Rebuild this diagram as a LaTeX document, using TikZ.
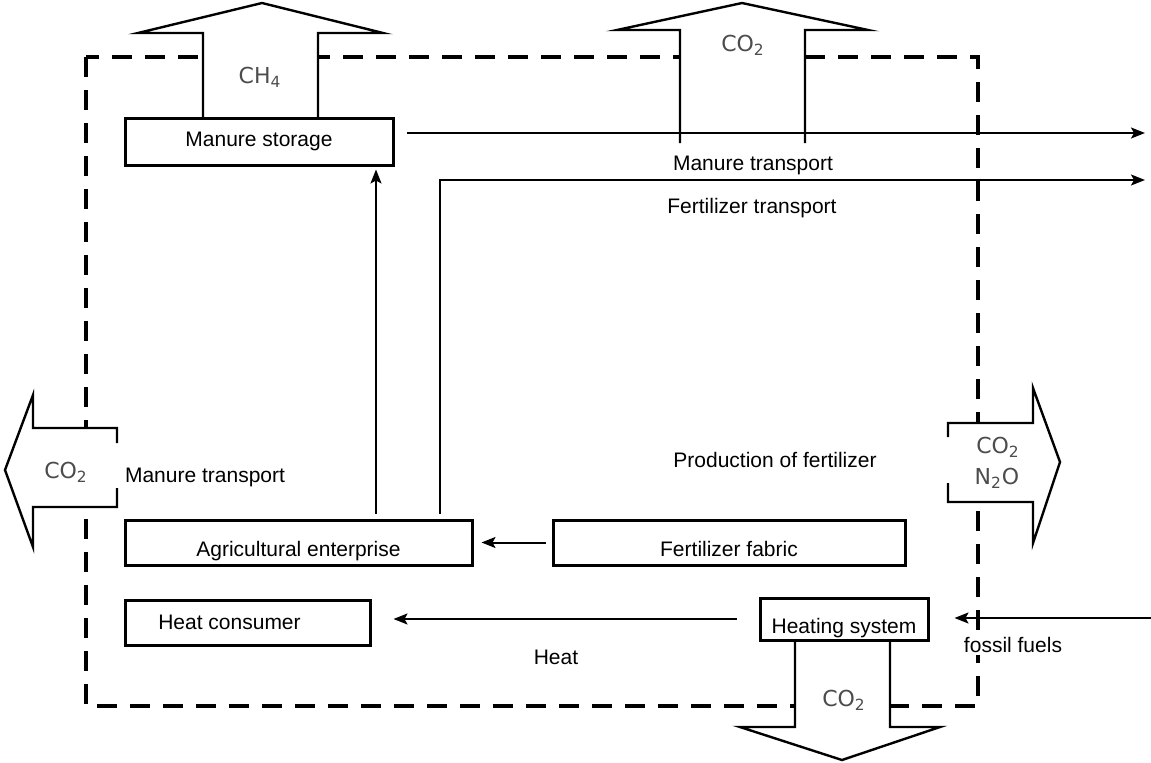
\documentclass[tikz,border=0pt]{standalone}
\usepackage{fontspec}
\setmainfont{Liberation Sans}
\newfontfamily\gasfont{DejaVu Sans}
\usetikzlibrary{arrows.meta}

\begin{document}
\begin{tikzpicture}[x=0.5pt,y=-0.5pt,font=\fontsize{10.5}{12.6}\selectfont,
  box/.style={draw,line width=1.5pt,inner sep=0pt,minimum height=22.5pt},
  low/.style={text height=14pt,text depth=0pt},
  flow/.style={line width=1pt,-{Stealth[length=7pt,width=5.5pt,inset=1.5pt]}},
  gas/.style={draw,line width=1.2pt,fill=white},
  gaslabel/.style={font=\gasfont\fontsize{11}{13}\selectfont,text=black!70}]
\useasboundingbox (0,0) rectangle (1151,762);
% system border
\draw[line width=1.6pt,dash pattern=on 10pt off 6.5pt] (86,57) rectangle (978,706);
% emissions
\draw[gas] (203,118) -- (203,33) -- (138,33) -- (262,3) -- (383,33) -- (318,33) -- (318,118);
\draw[gas] (680,143) -- (680,30) -- (617,30) -- (742,3) -- (868,30) -- (805,30) -- (805,143);
\draw[gas] (117,443) -- (117,428) -- (33,428) -- (33,395) -- (5,470) -- (33,547) -- (33,507) -- (117,507) -- (117,488);
\draw[gas] (948,437) -- (948,423) -- (1033,423) -- (1033,388) -- (1060,462) -- (1033,543) -- (1033,502) -- (948,502) -- (948,483);
\draw[gas] (795,640) -- (795,727) -- (740,727) -- (842,760) -- (940,727) -- (890,727) -- (890,640);
\node[gaslabel] (ch4) at (260,77) {CH\textsubscript{4}};
\node[gaslabel] (co2top) at (743,45) {CO\textsubscript{2}};
\node[gaslabel] (co2left) at (66,472) {CO\textsubscript{2}};
\node[gaslabel] (co2right) at (998,447) {CO\textsubscript{2}};
\node[gaslabel] (n2o) at (997,478) {N\textsubscript{2}O};
\node[gaslabel] (co2bottom) at (844,700) {CO\textsubscript{2}};
% units
\node[box,minimum width=134pt,minimum height=23.5pt] (storage) at (259,141.5) {Manure storage};
\node[box,low,minimum width=173.5pt] (agric) at (298.5,542.5) {Agricultural enterprise};
\node[box,low,minimum width=176pt] (ferfab) at (729,542.5) {Fertilizer fabric};
\node[box,minimum width=122.5pt] (heatcons) at (247.5,622.5) {\hspace*{-18pt}Heat consumer};
\node[box,low,minimum width=84pt,minimum height=21pt] (heatsys) at (844,619) {Heating system};
% labels
\node (mantrans) at (753,165) {Manure transport};
\node (fertrans) at (752,208) {Fertilizer transport};
\node (prodfert) at (775,460) {Production of fertilizer};
\node[anchor=west] (mantransleft) at (118,477) {Manure transport};
\node (heat) at (556,657) {Heat};
\node[fill=white,inner sep=1pt] (fossil) at (1013,645) {fossil fuels};
% flows
\coordinate (manout) at (1145,133);
\coordinate (fertout) at (1145,180);
\coordinate (fertup) at (440,180);
\coordinate (manup) at (376,180);
\coordinate (fuelin) at (1151,618);
\draw[flow,shorten <=6pt] (storage.east |- manout) -- (manout);
\draw[flow,shorten <=2.5pt] (agric.north -| fertup) |- (fertout);
\draw[flow,shorten <=2.5pt,shorten >=1.5pt] (agric.north -| manup) -- (storage.south -| manup);
\draw[flow,shorten <=3pt,shorten >=4pt] (ferfab.west) -- (agric.east);
\draw[flow,shorten <=11pt,shorten >=11pt] (heatsys.west) -- (heatsys.west -| heatcons.east);
\draw[flow,shorten >=12.5pt] (fuelin) -- (fuelin -| heatsys.east);
\end{tikzpicture}
\end{document}
